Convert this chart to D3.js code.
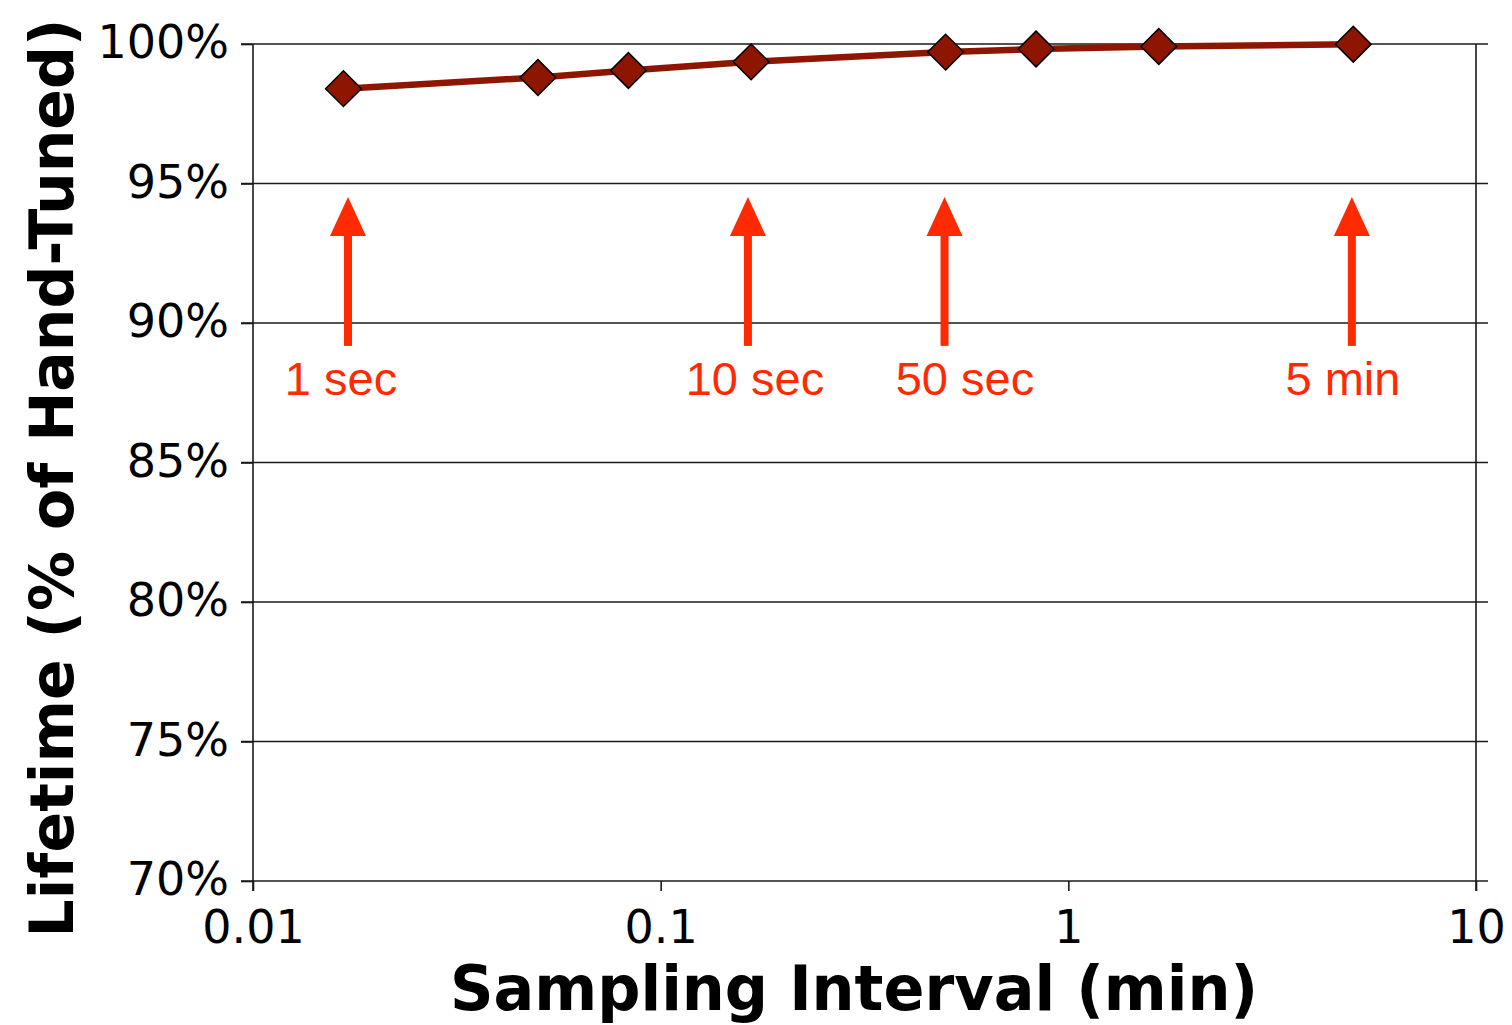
<!DOCTYPE html>
<html>
<head>
<meta charset="utf-8">
<script src="https://cdn.jsdelivr.net/npm/d3@7"></script>
<style>
  html, body { margin: 0; padding: 0; background: #fff; }
  svg { display: block; }
</style>
</head>
<body>
<svg id="chart" width="1512" height="1025"></svg>
<script>
// ---- data ----
const intervalsMin = [1/60, 3/60, 5/60, 10/60, 30/60, 50/60, 100/60, 300/60];
const lifetimePct = [0.984, 0.988, 0.9905, 0.9936, 0.9971, 0.9982, 0.9991, 0.9999];
const yTicks = [0.70, 0.75, 0.80, 0.85, 0.90, 0.95, 1.00];
const xTicks = [0.01, 0.1, 1, 10];
const xTickLabels = ["0.01", "0.1", "1", "10"];
const arrowX = [0.0171, 0.1637, 0.497, 4.96];
const arrowLabels = ["1 sec", "10 sec", "50 sec", "5 min"];
const arrowLabelX = [0.01644, 0.1703, 0.5578, 4.716];
const xTitle = "Sampling Interval (min)";
const yTitle = "Lifetime (% of Hand-Tuned)";

// ---- layout ----
const svg = d3.select("#chart");
const plotL = 253, plotR = 1476, plotT = 44, plotB = 881;
const x = d3.scaleLog().domain([0.01, 10]).range([plotL, plotR]);
const y = d3.scaleLinear().domain([0.70, 1.00]).range([plotB, plotT]);

const lineColor = "#8e1600";
const red = "#ff2a00";
const tickFont = "'DejaVu Sans', Verdana, sans-serif";

// gridlines
svg.append("g").selectAll("line").data(yTicks).join("line")
  .attr("x1", plotL - 12).attr("x2", plotR + 12)
  .attr("y1", d => y(d)).attr("y2", d => y(d))
  .attr("stroke", "#1a1a1a").attr("stroke-width", 1.6);

// y axis
const yAxis = d3.axisLeft(y).tickValues(yTicks).tickSize(12).tickPadding(12)
  .tickFormat(d3.format(".0%"));
const gy = svg.append("g").attr("transform", `translate(${plotL},0)`).call(yAxis);
gy.select(".domain").remove();
gy.selectAll(".tick line").attr("stroke", "#1a1a1a").attr("stroke-width", 1.6);
gy.selectAll(".tick text").attr("font-family", tickFont).attr("font-size", 46)
  .attr("fill", "#000").attr("dy", "0.30em");

// x axis
const xAxis = d3.axisBottom(x).tickValues(xTicks).tickSize(10).tickSizeOuter(0).tickPadding(19)
  .tickFormat((d, i) => xTickLabels[i]);
const gx = svg.append("g").attr("transform", `translate(0,${plotB})`).call(xAxis);
gx.select(".domain").remove();
gx.selectAll(".tick line").attr("stroke", "#1a1a1a").attr("stroke-width", 1.6);
gx.selectAll(".tick text").attr("font-family", tickFont).attr("font-size", 46).attr("fill", "#000");

// left and right frame lines
svg.append("line").attr("x1", plotL).attr("x2", plotL).attr("y1", plotT).attr("y2", plotB + 10)
  .attr("stroke", "#1a1a1a").attr("stroke-width", 1.6);
svg.append("line").attr("x1", plotR).attr("x2", plotR).attr("y1", plotT).attr("y2", plotB + 10)
  .attr("stroke", "#1a1a1a").attr("stroke-width", 1.6);

// data line
const data = intervalsMin.map((v, i) => ({ x: v, y: lifetimePct[i] }));
svg.append("path").datum(data)
  .attr("fill", "none").attr("stroke", lineColor).attr("stroke-width", 6.5)
  .attr("d", d3.line().x(d => x(d.x)).y(d => y(d.y)));

// markers (rotated squares = diamonds)
svg.append("g").selectAll("path").data(data).join("path")
  .attr("d", d3.symbol(d3.symbolSquare, 640)())
  .attr("transform", d => `translate(${x(d.x)},${y(d.y)}) rotate(45)`)
  .attr("fill", lineColor).attr("stroke", "#000").attr("stroke-width", 1.5);

// arrows
const arrowTip = 0.9452, arrowHeadBase = 0.9312, arrowTail = 0.8918;
const ga = svg.append("g");
arrowX.forEach(v => {
  const cx = x(v);
  ga.append("rect").attr("x", cx - 4).attr("width", 8)
    .attr("y", y(arrowHeadBase) - 1).attr("height", y(arrowTail) - y(arrowHeadBase) + 1)
    .attr("fill", red);
  ga.append("path")
    .attr("d", `M${cx},${y(arrowTip)} L${cx + 18},${y(arrowHeadBase)} L${cx - 18},${y(arrowHeadBase)} Z`)
    .attr("fill", red);
});
const labelBaseline = 0.8742;
svg.append("g").selectAll("text").data(arrowLabels).join("text")
  .attr("x", (d, i) => x(arrowLabelX[i])).attr("y", y(labelBaseline))
  .attr("text-anchor", "middle")
  .attr("font-family", "'Liberation Sans', Arial, Helvetica, sans-serif")
  .attr("font-size", 47).attr("fill", red)
  .text(d => d);

// axis titles
const titleFont = "'DejaVu Sans', Verdana, sans-serif";
svg.append("text")
  .attr("x", 854).attr("y", 1010).attr("text-anchor", "middle")
  .attr("font-family", titleFont).attr("font-weight", "bold").attr("font-size", 62)
  .attr("textLength", 808).attr("lengthAdjust", "spacingAndGlyphs")
  .text(xTitle);
svg.append("text")
  .attr("transform", "translate(73,478) rotate(-90)").attr("text-anchor", "middle")
  .attr("font-family", titleFont).attr("font-weight", "bold").attr("font-size", 60)
  .text(yTitle);
</script>
</body>
</html>
